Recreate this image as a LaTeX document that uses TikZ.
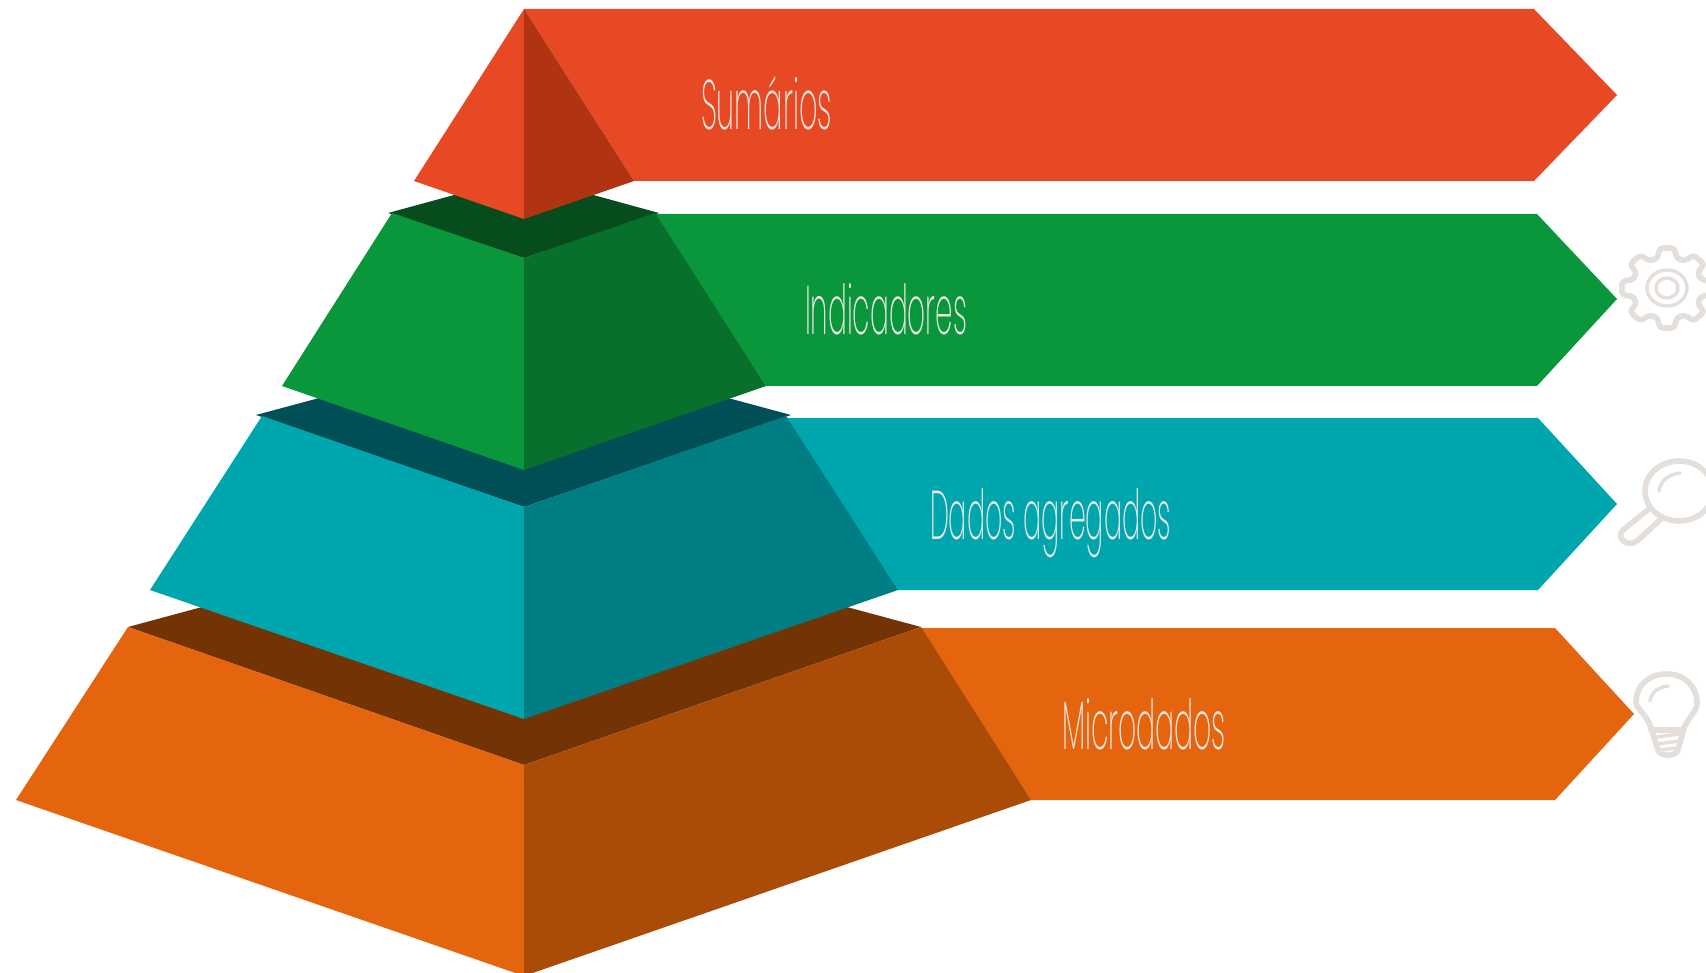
\documentclass[tikz,border=0pt]{standalone}
\usepackage{fontspec}
\usepackage{graphicx}
\newfontfamily\labfont[UprightFont=* ExtraLight]{Poppins}
\definecolor{redA}{HTML}{E64923}\definecolor{redB}{HTML}{B03312}
\definecolor{greenA}{HTML}{0A963A}\definecolor{greenB}{HTML}{08702D}\definecolor{greenC}{HTML}{064C1C}
\definecolor{tealA}{HTML}{00A6AE}\definecolor{tealB}{HTML}{007E84}\definecolor{tealC}{HTML}{014F56}
\definecolor{orangeA}{HTML}{E5650F}\definecolor{orangeB}{HTML}{AA4C08}\definecolor{orangeC}{HTML}{733304}
\definecolor{iconcol}{HTML}{E5DFDC}\definecolor{labcol}{HTML}{EDE8E4}
\newcommand{\lab}[3]{\resizebox{\dimexpr #1pt*3/4\relax}{\dimexpr #2pt*3/4\relax}{\labfont #3}}
\tikzset{
  labelnode/.style={anchor=base west,inner sep=0pt,outer sep=0pt,text=labcol},
  iconline/.style={draw=iconcol,line width=4.2pt,line cap=round,line join=round},
  iconthin/.style={draw=iconcol,line width=2.6pt,line cap=round,line join=round}
}
\begin{document}
\begin{tikzpicture}[x=0.75pt,y=-0.75pt]
\useasboundingbox (0,0) rectangle (1706,973);
\clip (0,0) rectangle (1706,973);
\fill[white] (0,0) rectangle (1706,973);
% orange tier
\fill[orangeA] (921,628) -- (1555,628) -- (1634,714) -- (1555,800) -- (1031,800) -- cycle;
\fill[orangeC] (128,627) -- (524,520) -- (921,627) -- (524,765) -- cycle;
\fill[orangeA] (128,627) -- (524,765) -- (524,976) -- (16,800) -- cycle;
\fill[orangeB] (524,765) -- (921,627) -- (1031,800) -- (524,976) -- cycle;
% teal tier
\fill[tealA] (786,418) -- (1538,418) -- (1617,504) -- (1538,590) -- (898,590) -- cycle;
\fill[tealC] (256,415) -- (524,343) -- (791,415) -- (524,507) -- cycle;
\fill[tealA] (262,416) -- (524,507) -- (524,719) -- (150,590) -- cycle;
\fill[tealB] (524,507) -- (786,416) -- (898,590) -- (524,719) -- cycle;
% green tier
\fill[greenA] (655,214) -- (1537,214) -- (1617,299) -- (1537,386) -- (766,386) -- cycle;
\fill[greenC] (388,213) -- (524,176) -- (659,213) -- (524,258) -- cycle;
\fill[greenA] (392,213) -- (524,258) -- (524,470) -- (282,386) -- cycle;
\fill[greenB] (524,258) -- (655,213) -- (766,386) -- (524,470) -- cycle;
% red tier
\fill[redA] (524,9) -- (1534,9) -- (1617,95) -- (1534,181) -- (634,181) -- cycle;
\fill[redA] (524,9) -- (524,219) -- (414,181) -- cycle;
\fill[redB] (524,9) -- (634,181) -- (524,219) -- cycle;
% labels
\node[labelnode] (sumarios) at (701,130) {\lab{131}{53}{Sumários}};
\node[labelnode] (indicadores) at (805,335) {\lab{162}{51}{Indicadores}};
\node[labelnode] (agregados) at (930,539) {\lab{241}{51}{Dados agregados}};
\node[labelnode] (microdados) at (1062,749) {\lab{164}{51}{Microdados}};
% gear
\begin{scope}[shift={(1667,288)},xscale=1.13]
\draw[iconline,rounded corners=2.2pt] (-16:31)
  \foreach \a in {0,45,...,315} { -- (\a-16:31) -- (\a-9:40.5) -- (\a+9:40.5) -- (\a+16:31) } -- cycle;
\end{scope}
\draw[iconthin] (1667,288) ellipse (20 and 18);
\draw[iconthin] (1667,288) ellipse (11 and 10);
% magnifier
\draw[iconline] (1679,491) ellipse (34 and 30);
\draw[iconline] (1650,508) -- (1623,530) .. controls (1615,538) and (1628,548) .. (1637,541) -- (1661,519);
\draw[iconthin] (1659,491) .. controls (1660,481) and (1669,474) .. (1680,473);
% bulb
\draw[iconline] (1651,728) .. controls (1647,715) and (1636,708) .. (1636,703)
  .. controls (1636,684) and (1650,674) .. (1667,674)
  .. controls (1684,674) and (1697,686) .. (1697,703)
  .. controls (1697,711) and (1688,718) .. (1684,728)
  -- (1678,750) .. controls (1676,757) and (1660,757) .. (1658,750) -- cycle;
\draw[iconline] (1651,730) -- (1684,730);
\draw[iconthin] (1656,737) -- (1680,734);
\draw[iconthin] (1658,744) -- (1678,741);
\draw[iconthin] (1661,750) -- (1675,748);
\draw[iconthin] (1650,701) .. controls (1651,693) and (1658,687) .. (1668,686);
\end{tikzpicture}
\end{document}
